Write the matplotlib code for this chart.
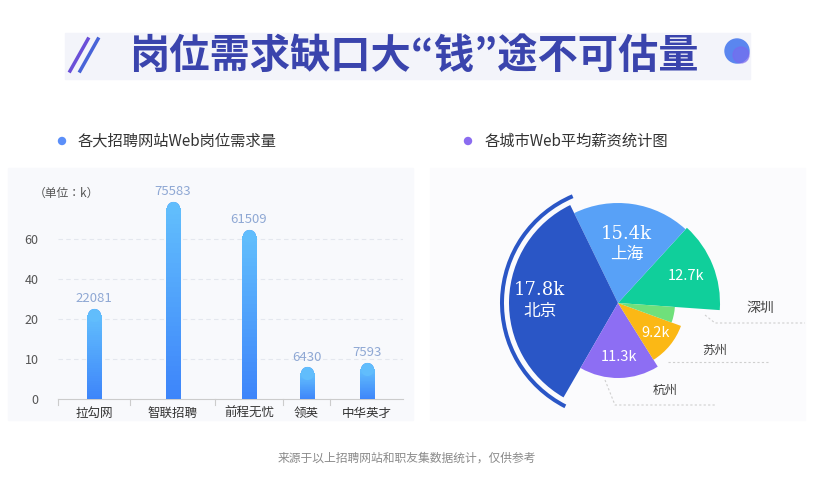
import numpy as np
import matplotlib.pyplot as plt
from matplotlib import font_manager as fm
from matplotlib.collections import LineCollection
from matplotlib.patches import Wedge, Rectangle, Circle

cjk = sorted(f for f in fm.findSystemFonts()
             if "CJK" in f and "Sans" in f and "Regular" in f)
cjk_name = "Noto Sans CJK SC"
if cjk:
    fm.fontManager.addfont(cjk[0])
    cjk_name = fm.FontProperties(fname=cjk[0]).get_name()
plt.rcParams["font.family"] = [cjk_name, "DejaVu Sans"]

# bar chart data
sites = ["拉勾网", "智联招聘", "前程无忧", "领英", "中华英才"]
demand = [22081, 75583, 61509, 6430, 7593]
band_widths = [72, 85, 68, 47, 73]  # category band widths as drawn
y_ticks = [0, 10, 20, 40, 60]

# rose chart data (counter-clockwise from 深圳)
cities = ["深圳", "上海", "北京", "杭州", "苏州", ""]
salary = ["12.7k", "15.4k", "17.8k", "11.3k", "9.2k", ""]
spans = [51.5, 68.5, 124, 62, 38, 16]
rose_len = [102, 100, 109, 75, 67, 57]
city_colors = ["#10cf9b", "#58a1f7", "#2a56c6", "#8d6ef3", "#fbb815", "#6fe07b"]

fig = plt.figure(figsize=(8.13, 4.8), dpi=100)
fig.patch.set_facecolor("white")

# overlay axes in pixel units (y up)
ov = fig.add_axes([0, 0, 1, 1])
ov.set_xlim(0, 813)
ov.set_ylim(0, 480)
ov.axis("off")

ov.add_patch(Rectangle((8, 60), 405, 252, color="#f8f9fc", zorder=0))
ov.add_patch(Rectangle((430, 60), 375, 252, color="#fbfbfd", zorder=0))

# title banner
ov.add_patch(Rectangle((65, 401), 685, 46, color="#f3f4fa", zorder=1))
ov.plot([70, 88], [409, 441], color="#6a4fd8", lw=2.5, zorder=2)
ov.plot([80, 98], [409, 441], color="#4863d8", lw=2.5, zorder=2)
ov.add_patch(Circle((737, 429), 12, color="#5a86ef", zorder=2))
ov.add_patch(Circle((741, 425), 8, color="#7a68ee", zorder=2, alpha=0.6))
ov.text(414, 424, "岗位需求缺口大“钱”途不可估量", fontsize=29, fontweight="bold",
        color="#3a44ad", ha="center", va="center", zorder=3)

# section headings
ov.add_patch(Circle((62, 339), 3.5, color="#5b8ff9"))
ov.text(78, 339, "各大招聘网站Web岗位需求量", fontsize=11, color="#333333", va="center")
ov.add_patch(Circle((468, 339), 3.5, color="#8b6cf0"))
ov.text(485, 339, "各城市Web平均薪资统计图", fontsize=11, color="#333333", va="center")

ov.text(407, 22, "来源于以上招聘网站和职友集数据统计，仅供参考", fontsize=8.5,
        color="#8a8a8a", ha="center", va="center")

# bar chart with stretched y scale
knots_v = [0, 10, 20, 40, 60, 80]
knots_p = [0, 1, 2, 3, 4, 5]
fwd = lambda v: np.interp(v, knots_v, knots_p)
inv = lambda p: np.interp(p, knots_p, knots_v)

ax = fig.add_axes([58 / 813, 81 / 480, 345 / 813, 200 / 480])
ax.set_facecolor("none")
ax.set_yscale("function", functions=(fwd, inv))
ax.set_ylim(0, 80)
edges = np.concatenate([[0], np.cumsum(band_widths)])
centers = (edges[:-1] + edges[1:]) / 2
ax.set_xlim(0, edges[-1])
ax.set_yticks(y_ticks)
ax.set_yticklabels([str(t) for t in y_ticks], color="#555555", fontsize=9)
ax.tick_params(axis="y", length=0, pad=14)
ax.set_xticks(centers)
ax.set_xticklabels(sites, fontsize=9, color="#333333")
ax.tick_params(axis="x", length=0, pad=6)
for e in edges[:-1]:
    ax.plot([e, e], [0, -0.03], color="#cccccc", lw=0.8, clip_on=False,
            transform=ax.get_xaxis_transform())
for t in y_ticks[1:]:
    ax.axhline(t, color="#e4e7ee", lw=0.8, ls=(0, (4, 3)), zorder=0)
for s in ["top", "right", "left"]:
    ax.spines[s].set_visible(False)
ax.spines["bottom"].set_color("#cccccc")

lw = 9.5
c_bot = np.array([0.24, 0.52, 0.98])
c_top = np.array([0.38, 0.74, 0.99])
for x, v in zip(centers, demand):
    k = v / 1000
    ax.plot([x, x], [0, k], color=c_bot, lw=lw, solid_capstyle="round", zorder=2)
    ys = inv(np.linspace(0, fwd(k), 40))
    segs = [[(x, ys[i]), (x, ys[i + 1])] for i in range(len(ys) - 1)]
    fr = np.linspace(0, 1, len(segs))[:, None]
    cols = c_bot * (1 - fr) + c_top * fr
    ax.add_collection(LineCollection(segs, colors=cols, linewidths=lw,
                                     capstyle="butt", antialiaseds=False,
                                     zorder=3))
    ax.plot([x], [k], "o", color=c_top, ms=lw, mec="none", zorder=4)
    ax.annotate(str(v), (x, k), xytext=(0, 7), textcoords="offset points",
                ha="center", va="bottom", fontsize=9.5, color="#8fa8d4")
ax.text(-0.07, 1.03, "（单位：k）", transform=ax.transAxes, fontsize=8.5,
        color="#555555", va="center")

# nightingale rose
cx, cy = 618, 177
scale = 109 / max(rose_len)
a0 = -4.0
for i, (span, r, col) in enumerate(zip(spans, rose_len, city_colors)):
    a1 = a0 + span
    ov.add_patch(Wedge((cx, cy), r * scale, a0, a1, color=col, lw=0, zorder=2))
    mid = np.radians((a0 + a1) / 2)
    f = 0.6 if cities[i] == "上海" else 0.72
    tx, ty = cx + f * r * np.cos(mid), cy + f * r * np.sin(mid)
    if cities[i] in ("北京", "上海"):
        ov.text(tx, ty + 10, salary[i], color="white", fontsize=13, ha="center",
                va="center", family="DejaVu Serif", zorder=4)
        ov.text(tx, ty - 11, cities[i], color="white", fontsize=12, ha="center",
                va="center", zorder=4)
    elif salary[i]:
        ov.text(tx, ty, salary[i], color="white", fontsize=10.5, ha="center",
                va="center", zorder=4)
    if cities[i] == "北京":
        ov.add_patch(Wedge((cx, cy), r * scale + 9, a0 - 3, a1 + 3, width=4,
                           color=col, lw=0, zorder=2))
    a0 = a1

# outside labels with dashed leaders
outside = {"深圳": ((705, 165), (805, 157), (760, 172)),
           "苏州": ((668, 118), (768, 118), (715, 130)),
           "杭州": ((605, 100), (715, 75), (665, 90))}
for name, (p0, p1, pt) in outside.items():
    ov.plot([p0[0], p0[0] + 10, p1[0]], [p0[1], p1[1], p1[1]], color="#cfcfcf",
            lw=0.8, ls=(0, (2, 2)), zorder=1)
    ov.text(pt[0], pt[1], name, fontsize=10 if name == "深圳" else 9,
            color="#444444", ha="center", va="center")

fig.savefig("out.png", dpi=100)
